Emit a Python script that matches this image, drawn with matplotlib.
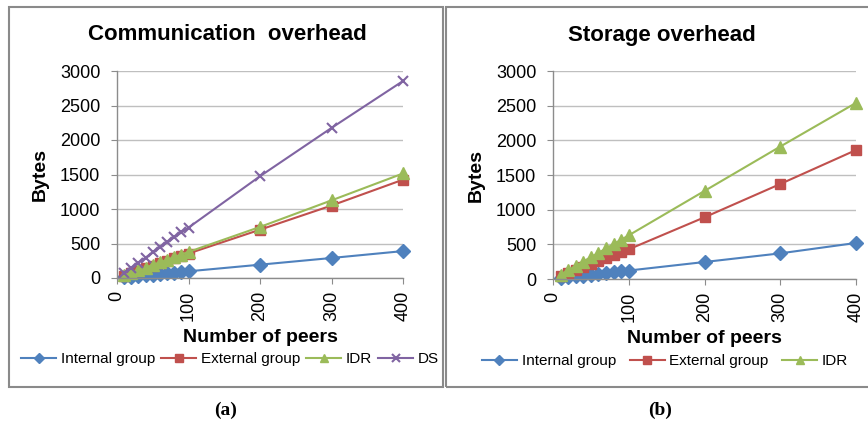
import matplotlib
matplotlib.use("Agg")
import matplotlib.pyplot as plt
from matplotlib.patches import Rectangle

plt.rcParams['font.family'] = ['Liberation Sans', 'DejaVu Sans']

# --- data ---
peers = [10, 20, 30, 40, 50, 60, 70, 80, 90, 100, 200, 300, 400]

comm_internal = [10, 20, 29, 39, 49, 58, 68, 78, 88, 97, 193, 290, 390]
comm_external = [36, 71, 107, 143, 178, 214, 250, 285, 320, 355, 700, 1050, 1425]
comm_idr = [38, 76, 113, 151, 189, 227, 264, 302, 340, 378, 740, 1125, 1515]
comm_ds = [75, 148, 222, 296, 370, 444, 518, 590, 660, 730, 1475, 2175, 2855]

stor_internal = [12, 25, 37, 50, 62, 75, 87, 100, 112, 122, 245, 370, 520]
stor_external = [43, 86, 129, 172, 215, 258, 300, 343, 385, 428, 890, 1370, 1860]
stor_idr = [63, 126, 189, 252, 315, 378, 441, 504, 567, 630, 1270, 1910, 2540]

x_ticks = [0, 100, 200, 300, 400]
y_ticks = [0, 500, 1000, 1500, 2000, 2500, 3000]

BLUE = "#4F81BD"
RED = "#C0504D"
GREEN = "#9BBB59"
PURPLE = "#8064A2"
GRID = "#BFBFBF"
AXIS = "#8C8C8C"

W, H = 868, 428
fig = plt.figure(figsize=(W / 100, H / 100), dpi=100)


def px_axes(x0, x1, ytop, ybot):
    return fig.add_axes([x0 / W, (H - ybot) / H, (x1 - x0) / W, (ybot - ytop) / H])


def style(ax, title, title_x):
    ax.set_xlim(0, 400)
    ax.set_ylim(0, 3000)
    ax.set_xticks(x_ticks)
    ax.set_yticks(y_ticks)
    ax.set_xticklabels([str(t) for t in x_ticks], rotation=90, fontsize=13)
    ax.set_yticklabels([str(t) for t in y_ticks], fontsize=13)
    ax.grid(axis="y", color=GRID, linewidth=1.0)
    ax.set_axisbelow(True)
    for s in ["top", "right"]:
        ax.spines[s].set_visible(False)
    for s in ["left", "bottom"]:
        ax.spines[s].set_color(AXIS)
        ax.spines[s].set_linewidth(1.0)
    ax.tick_params(axis="both", colors=AXIS, length=4, labelcolor="black")
    ax.tick_params(axis="y", pad=8)
    ax.tick_params(axis="x", pad=5)
    fig.text(title_x / W, (H - 35) / H, title, ha="center", va="center",
             fontsize=16, fontweight="bold")
    ax.set_ylabel("Bytes", fontsize=14, fontweight="bold", labelpad=8)
    ax.set_xlabel("Number of peers", fontsize=14, fontweight="bold", labelpad=6)


# --- panel boxes ---
fig.patches.append(Rectangle((9 / W, (H - 387) / H), 434 / W, 380 / H,
                             transform=fig.transFigure, fill=False,
                             edgecolor="#8A8A8A", linewidth=1.5))
fig.patches.append(Rectangle((446 / W, (H - 387) / H), 430 / W, 380 / H,
                             transform=fig.transFigure, fill=False,
                             edgecolor="#8A8A8A", linewidth=1.5))

# --- (a) communication overhead ---
ax1 = px_axes(117, 403, 71, 278)
ax1.plot(peers, comm_internal, color=BLUE, marker="D", markersize=7, lw=1.5, label="Internal group", clip_on=False)
ax1.plot(peers, comm_external, color=RED, marker="s", markersize=7.5, lw=1.5, label="External group", clip_on=False)
ax1.plot(peers, comm_idr, color=GREEN, marker="^", markersize=8.5, lw=1.5, label="IDR", clip_on=False)
ax1.plot(peers, comm_ds, color=PURPLE, marker="x", markersize=7.5, mew=1.5, lw=1.5, label="DS", clip_on=False)
style(ax1, "Communication  overhead", 227)
h, l = ax1.get_legend_handles_labels()
fig.legend(h, l, loc="center", bbox_to_anchor=(230 / W, (H - 359) / H), ncol=4,
           frameon=False, fontsize=11, handlelength=2.3, columnspacing=0.4,
           handletextpad=0.3, borderpad=0, markerscale=0.75)

# --- (b) storage overhead ---
ax2 = px_axes(553, 856, 71, 279)
ax2.plot(peers, stor_internal, color=BLUE, marker="D", markersize=7, lw=1.5, label="Internal group", clip_on=False)
ax2.plot(peers, stor_external, color=RED, marker="s", markersize=7.5, lw=1.5, label="External group", clip_on=False)
ax2.plot(peers, stor_idr, color=GREEN, marker="^", markersize=8.5, lw=1.5, label="IDR", clip_on=False)
style(ax2, "Storage overhead", 662)
h, l = ax2.get_legend_handles_labels()
fig.legend(h, l, loc="center", bbox_to_anchor=(665 / W, (H - 361) / H), ncol=3,
           frameon=False, fontsize=11, handlelength=2.3, columnspacing=0.9,
           handletextpad=0.3, borderpad=0, markerscale=0.75)

# --- captions ---
fig.text(226 / W, (H - 410) / H, "(a)", ha="center", va="center",
         fontsize=14, fontweight="bold", family="Liberation Serif")
fig.text(660 / W, (H - 410) / H, "(b)", ha="center", va="center",
         fontsize=14, fontweight="bold", family="Liberation Serif")

fig.savefig("out.png", dpi=100)
